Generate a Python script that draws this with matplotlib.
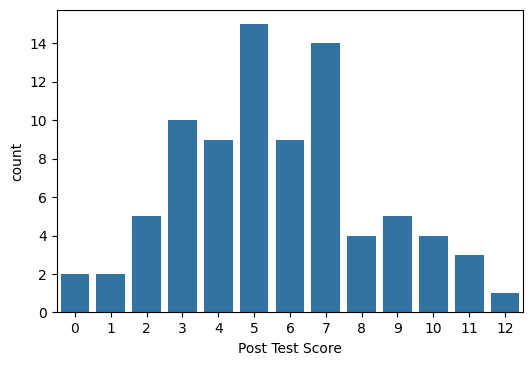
import matplotlib
matplotlib.use("Agg")
import matplotlib.pyplot as plt

scores = list(range(13))
counts = [2, 2, 5, 10, 9, 15, 9, 14, 4, 5, 4, 3, 1]

fig = plt.figure(figsize=(5.32, 3.65), dpi=100)
ax = fig.add_axes([0.107, 0.144, 0.876, 0.829])
ax.bar(scores, counts, width=0.8, color="#3274a1")
ax.set_xticks(scores)
ax.set_xticklabels([str(s) for s in scores])
ax.set_xlim(-0.5, 12.5)
ax.set_ylim(0, 15.75)
ax.set_xlabel("Post Test Score")
ax.set_ylabel("count")
fig.savefig("out.png", dpi=100)
